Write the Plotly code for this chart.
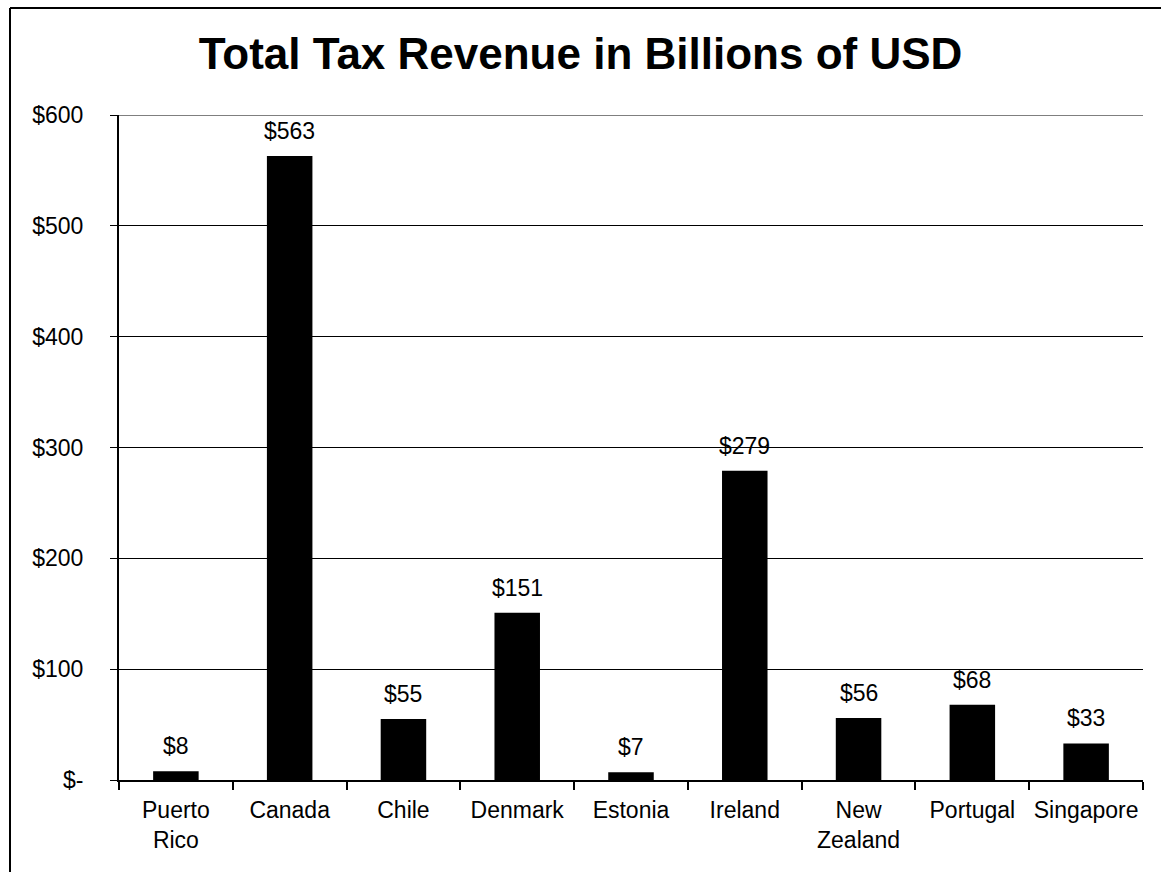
import plotly.graph_objects as go

# Total tax revenue by country, billions of USD
countries = ["Puerto<br>Rico", "Canada", "Chile", "Denmark", "Estonia",
             "Ireland", "New<br>Zealand", "Portugal", "Singapore"]
revenue = [8, 563, 55, 151, 7, 279, 56, 68, 33]

y_tick_values = [0, 100, 200, 300, 400, 500, 600]
y_tick_labels = ["$-", "$100", "$200", "$300", "$400", "$500", "$600"]

W, H = 1161, 872
L, R, T, B = 119, 18, 115, 92
plot_w = W - L - R
plot_h = H - T - B

font_family = "Liberation Sans, Arial, Helvetica, sans-serif"
label_size = 23

fig = go.Figure(
    go.Bar(
        x=countries,
        y=revenue,
        width=0.4,
        marker=dict(color="black", line=dict(width=0)),
        hoverinfo="x+y",
    )
)

# Value labels above each bar
for c, v in zip(countries, revenue):
    fig.add_annotation(
        x=c, y=v, xref="x", yref="y",
        text=f"${v}", showarrow=False,
        yanchor="bottom", yshift=10,
        font=dict(size=label_size, color="black", family=font_family),
    )

fig.update_layout(
    width=W,
    height=H,
    margin=dict(l=L, r=R, t=T, b=B),
    paper_bgcolor="white",
    plot_bgcolor="white",
    showlegend=False,
    title=dict(
        text="<b>Total Tax Revenue in Billions of USD</b>",
        x=0.5, xanchor="center",
        y=1 - 54 / H, yanchor="middle",
        font=dict(size=44, color="black", family=font_family),
    ),
    font=dict(family=font_family, size=label_size, color="black"),
)

fig.update_xaxes(
    type="category",
    automargin=False,
    tickangle=0,
    showline=True, linecolor="black", linewidth=2,
    ticks="outside", tickson="boundaries", ticklen=8, tickwidth=2,
    tickcolor="black",
    tickfont=dict(size=label_size, color="black"),
    ticklabelstandoff=8,
    showgrid=False,
)

fig.update_yaxes(
    range=[0, 600],
    automargin=False,
    tickvals=y_tick_values,
    ticktext=y_tick_labels,
    showline=True, linecolor="black", linewidth=2,
    ticks="outside", ticklen=7, tickwidth=1, tickcolor="black",
    tickfont=dict(size=label_size, color="black"),
    showgrid=True, gridcolor="black", gridwidth=1,
    zeroline=False,
    ticklabelstandoff=22,
)

# Top gridline at the upper end of the value range
fig.add_shape(
    type="line", xref="paper", yref="y",
    x0=0, x1=1, y0=600, y1=600,
    line=dict(color="black", width=1),
)

# Outer frame: left and top edges
frame_left = (10 - L) / plot_w
frame_top = (plot_h + T - 8) / plot_h
fig.add_shape(
    type="line", xref="paper", yref="paper",
    x0=frame_left, x1=frame_left, y0=-(B + 10) / plot_h, y1=frame_top,
    line=dict(color="black", width=2),
)
fig.add_shape(
    type="line", xref="paper", yref="paper",
    x0=frame_left, x1=(W + 10 - L) / plot_w, y0=frame_top, y1=frame_top,
    line=dict(color="black", width=2),
)

fig.write_html("out.html")
